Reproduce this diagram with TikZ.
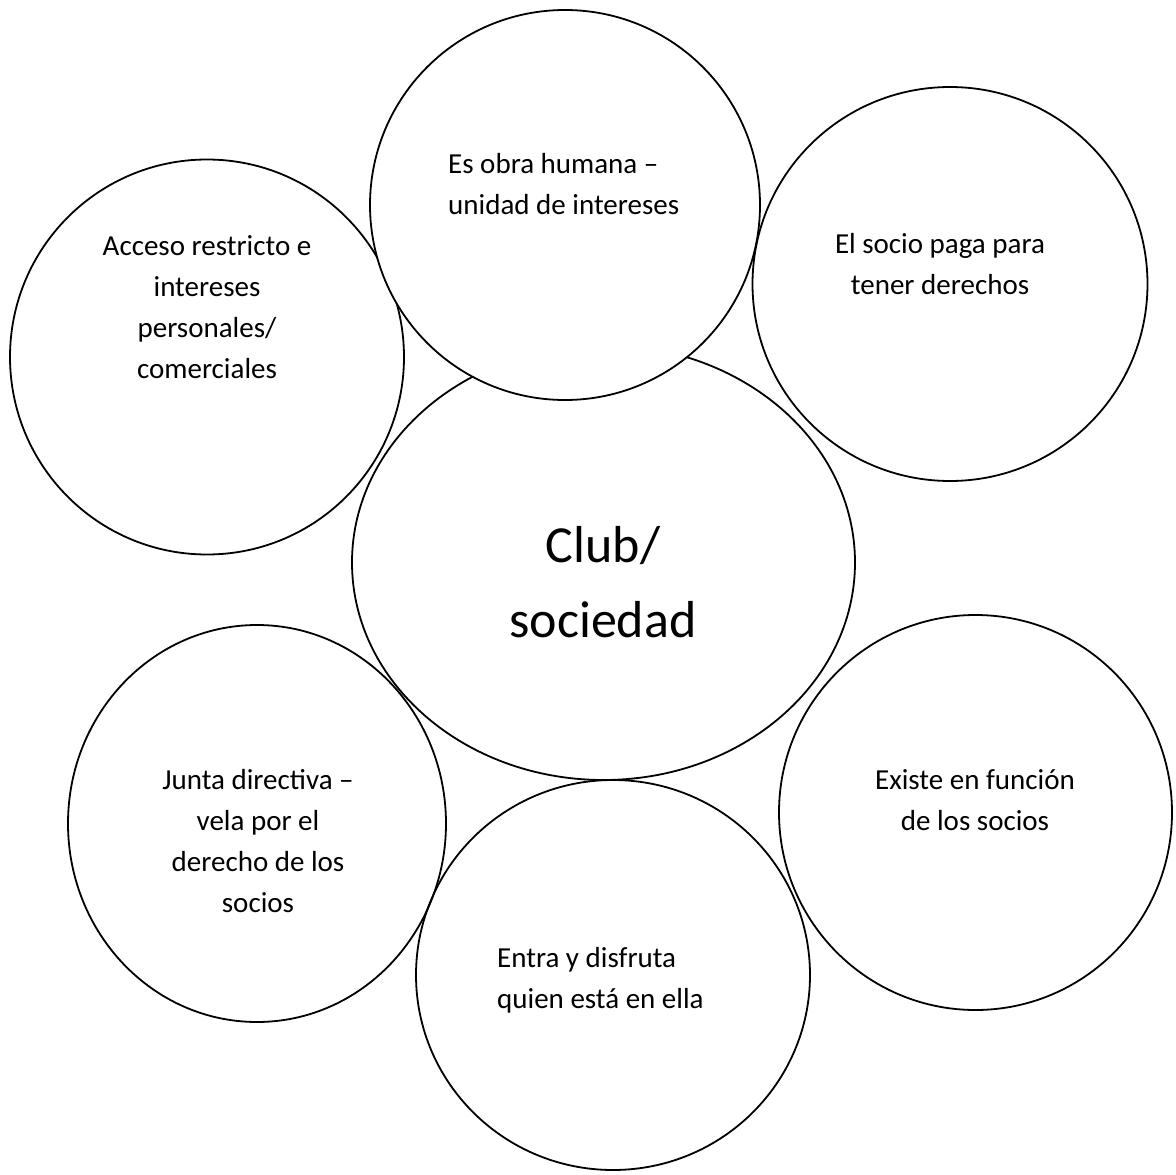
\documentclass[tikz,border=0pt]{standalone}
\usepackage{fontspec}
\setmainfont{Carlito}
\usetikzlibrary{shapes.geometric}
\begin{document}
\begin{tikzpicture}[x=1pt,y=-1pt,
  bub/.style={draw=black, line width=1.8pt, ellipse, inner sep=0pt, outer sep=0pt},
  lbl/.style={font=\fontsize{29}{40.7}\selectfont, inner sep=0pt},
  big/.style={font=\fontsize{52}{75}\selectfont, inner sep=0pt}]
\path[use as bounding box, fill=white] (0,0) rectangle (1176,1175);
% bubbles
\node[bub, minimum width=394pt, minimum height=395pt] (acc) at (207,357) {};
\node[bub, minimum width=395pt, minimum height=394pt] (soc) at (950,284) {};
\node[bub, minimum width=393pt, minimum height=395pt] (exi) at (975.5,812.5) {};
\node[bub, minimum width=378pt, minimum height=397pt] (jun) at (257,823.5) {};
\node[bub, minimum width=503pt, minimum height=435pt] (club) at (603.5,562.5) {};
\node[bub, fill=white, minimum width=390pt, minimum height=390pt] (obra) at (565,205) {};
\node[bub, minimum width=394pt, minimum height=390pt] (ent) at (613,975) {};
% texts (anchor base = baseline of last line)
\node[lbl, align=center, anchor=base] (tacc) at (207,378) {Acceso restricto e\\intereses\\personales/\\comerciales};
\node[lbl, align=left, anchor=base west] (tobra) at (448,214) {Es obra humana –\\unidad de intereses};
\node[lbl, align=center, anchor=base] (tsoc) at (940,294) {El socio paga para\\tener derechos};
\node[big, align=center, anchor=base] (tclub) at (603,637) {Club/\\sociedad};
\node[lbl, align=center, anchor=base] (tjun) at (258,912) {Junta directiva –\\vela por el\\derecho de los\\socios};
\node[lbl, align=center, anchor=base] (texi) at (975,830) {Existe en función\\de los socios};
\node[lbl, align=left, anchor=base west] (tent) at (497,1008) {Entra y disfruta\\quien está en ella};
\end{tikzpicture}
\end{document}
